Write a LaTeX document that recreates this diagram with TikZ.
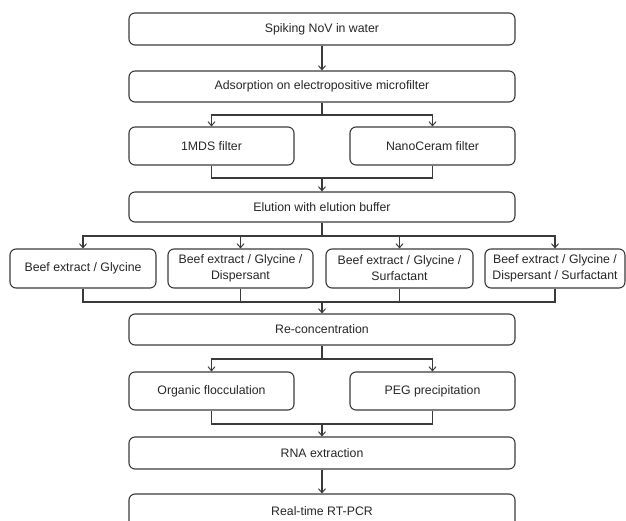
\documentclass[tikz,border=0pt]{standalone}
\usepackage{fontspec}
\setmainfont{Liberation Sans}
\usetikzlibrary{arrows.meta}
\definecolor{ln}{HTML}{3A3A3A}
\definecolor{tx}{HTML}{262626}
\begin{document}
\begin{tikzpicture}[x=1pt,y=-1pt,
  box/.style={draw=ln,line width=1.1pt,rounded corners=6pt,inner sep=0pt,
    text=tx,align=center,font=\fontsize{12.3}{15.8}\selectfont},
  mainbox/.style={box,minimum width=386pt},
  arr/.style={draw=ln,line width=1.1pt,-{Straight Barb[length=4pt,width=7pt,line width=1pt]}},
  ln/.style={draw=ln,line width=1.1pt}]
\clip (0,0) rectangle (626,521);
% nodes
\node[mainbox,minimum height=32pt] (spike) at (322,29) {Spiking NoV in water};
\node[mainbox,minimum height=31pt] (ads) at (322,86.5) {Adsorption on electropositive microfilter};
\node[box,minimum width=165pt,minimum height=38pt] (mds) at (211.5,146) {1MDS filter};
\node[box,minimum width=165pt,minimum height=38pt] (nano) at (432.5,146) {NanoCeram filter};
\node[mainbox,minimum height=30pt] (elu) at (322,207) {Elution with elution buffer};
\node[box,minimum width=146pt,minimum height=39pt] (b1) at (83,268.5) {Beef extract / Glycine};
\node[box,minimum width=145pt,minimum height=39pt] (b2) at (240.5,268.5) {Beef extract / Glycine /\\Dispersant};
\node[box,minimum width=147pt,minimum height=39pt] (b3) at (399.5,268.5) {Beef extract / Glycine /\\Surfactant};
\node[box,minimum width=140pt,minimum height=39pt] (b4) at (555,268.5) {Beef extract / Glycine /\\Dispersant / Surfactant};
\node[mainbox,minimum height=31pt] (rec) at (322,329.5) {Re-concentration};
\node[box,minimum width=165pt,minimum height=38pt] (org) at (211.5,391) {Organic flocculation};
\node[box,minimum width=165pt,minimum height=38pt] (peg) at (432.5,391) {PEG precipitation};
\node[mainbox,minimum height=32pt] (rna) at (322,453) {RNA extraction};
\node[mainbox,minimum height=34pt] (rt) at (322,511) {Real-time RT-PCR};
% junction coordinates
\coordinate (j1) at (322,115);
\coordinate (j2) at (322,178);
\coordinate (j3) at (322,236);
\coordinate (j4) at (322,302);
\coordinate (j5) at (322,359);
\coordinate (j6) at (322,424);
% connectors
\draw[arr] (spike) -- (ads);
\draw[ln] (ads.south) -- (j1);
\draw[arr] (j1) -| (mds.north);
\draw[arr] (j1) -| (nano.north);
\draw[ln] (mds.south) |- (j2);
\draw[ln] (nano.south) |- (j2);
\draw[arr] (j2) -- (elu.north);
\draw[ln] (elu.south) -- (j3);
\draw[arr] (j3) -| (b1.north);
\draw[arr] (j3) -| (b2.north);
\draw[arr] (j3) -| (b3.north);
\draw[arr] (j3) -| (b4.north);
\draw[ln] (b1.south) |- (j4);
\draw[ln] (b2.south) |- (j4);
\draw[ln] (b3.south) |- (j4);
\draw[ln] (b4.south) |- (j4);
\draw[arr] (j4) -- (rec.north);
\draw[ln] (rec.south) -- (j5);
\draw[arr] (j5) -| (org.north);
\draw[arr] (j5) -| (peg.north);
\draw[ln] (org.south) |- (j6);
\draw[ln] (peg.south) |- (j6);
\draw[arr] (j6) -- (rna.north);
\draw[arr] (rna) -- (rt);
\end{tikzpicture}
\end{document}
